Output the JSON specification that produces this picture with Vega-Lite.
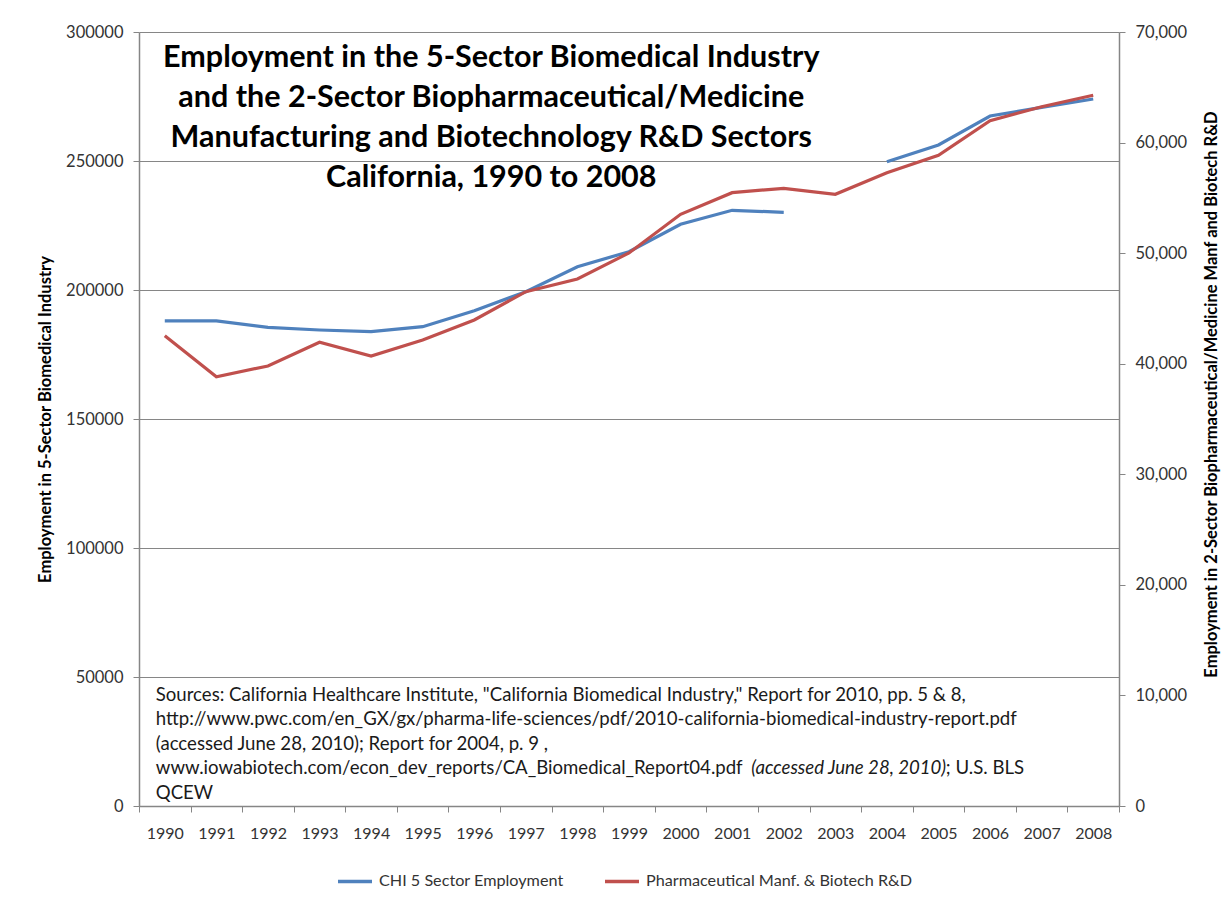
{
  "$schema": "https://vega.github.io/schema/vega-lite/v6.json",
  "autosize": {"type": "none"},
  "width": 980,
  "height": 774,
  "padding": {"left": 139, "top": 32, "right": 112, "bottom": 96},
  "background": "white",
  "config": {
    "view": {"stroke": null},
    "font": "Lato",
    "axis": {"labelFont": "Lato", "titleFont": "Lato", "labelColor": "#333333", "domainColor": "#868686", "tickColor": "#868686", "gridColor": "#868686", "gridOpacity": 1, "titleColor": "#000000"}
  },
  "data": {"values": [
    {"year": "1990", "chi": 188000, "pharma": 42534},
    {"year": "1991", "chi": 188000, "pharma": 38826},
    {"year": "1992", "chi": 185543, "pharma": 39793},
    {"year": "1993", "chi": 184496, "pharma": 41937},
    {"year": "1994", "chi": 183837, "pharma": 40698},
    {"year": "1995", "chi": 185775, "pharma": 42145},
    {"year": "1996", "chi": 191977, "pharma": 43953},
    {"year": "1997", "chi": 199341, "pharma": 46513},
    {"year": "1998", "chi": 209031, "pharma": 47662},
    {"year": "1999", "chi": 214845, "pharma": 50013},
    {"year": "2000", "chi": 225465, "pharma": 53513},
    {"year": "2001", "chi": 230891, "pharma": 55467},
    {"year": "2002", "chi": 230116, "pharma": 55865},
    {"year": "2003", "chi": null, "pharma": 55322},
    {"year": "2004", "chi": 249729, "pharma": 57276},
    {"year": "2005", "chi": 256202, "pharma": 58849},
    {"year": "2006", "chi": 267442, "pharma": 61979},
    {"year": "2007", "chi": 270814, "pharma": 63245},
    {"year": "2008", "chi": 274031, "pharma": 64276}
  ]},
  "encoding": {
    "x": {"field": "year", "type": "ordinal", "scale": {"type": "band", "paddingInner": 0, "paddingOuter": 0},
      "axis": {"title": null, "labelAngle": 0, "labelFontSize": 16, "tickBand": "extent", "tickSize": 6, "labelPadding": 13, "grid": false, "domainWidth": 1.5}}
  },
  "layer": [
    {
      "layer": [
        {
          "mark": {"type": "line", "strokeWidth": 3.2, "invalid": "break-paths-show-domains"},
          "encoding": {
            "y": {"field": "chi", "type": "quantitative", "scale": {"domain": [0, 300000], "nice": false, "zero": true},
              "axis": {"title": "Employment in 5-Sector Biomedical Industry", "titleFontSize": 16.5, "titleFontWeight": "bold", "titlePadding": 12,
                "values": [0, 50000, 100000, 150000, 200000, 250000, 300000], "format": "d", "labelFontSize": 16.5, "labelPadding": 10, "tickSize": 6, "grid": true, "domainWidth": 1.5}},
            "color": {"datum": "CHI 5 Sector Employment", "type": "nominal",
              "scale": {"domain": ["CHI 5 Sector Employment", "Pharmaceutical Manf. & Biotech R&D"], "range": ["#4F81BD", "#C0504D"]},
              "legend": {"title": null, "orient": "none", "direction": "horizontal", "legendX": 197, "legendY": 830, "symbolType": "stroke", "symbolSize": 1156, "symbolStrokeWidth": 3.5, "labelFontSize": 16.2, "labelFont": "Lato", "labelColor": "#333333", "labelLimit": 0, "columnPadding": 34, "labelOffset": 5}}
          }
        },
        {
          "data": {"values": [{"t": "Employment in the 5-Sector Biomedical Industry\nand the 2-Sector Biopharmaceutical/Medicine\nManufacturing and Biotechnology R&D Sectors\nCalifornia, 1990 to 2008"}]},
          "mark": {"type": "text", "lineBreak": "\n", "lineHeight": 40, "fontSize": 30.5, "fontWeight": "bold", "font": "Lato", "align": "center", "baseline": "alphabetic", "dx": 17, "color": "#000000"},
          "encoding": {"x": {"datum": "1996"}, "y": {"datum": 286434}, "text": {"field": "t"}}
        },
        {
          "data": {"values": [{"t": "Sources: California Healthcare Institute, \"California Biomedical Industry,\" Report for 2010,   pp. 5 & 8,\nhttp://www.pwc.com/en_GX/gx/pharma-life-sciences/pdf/2010-california-biomedical-industry-report.pdf\n(accessed June 28, 2010); Report for 2004, p. 9 ,\nwww.iowabiotech.com/econ_dev_reports/CA_Biomedical_Report04.pdf\nQCEW"}]},
          "mark": {"type": "text", "lineBreak": "\n", "lineHeight": 24.4, "fontSize": 18.6, "font": "Lato", "align": "left", "baseline": "alphabetic", "dx": -9, "color": "#1a1a1a"},
          "encoding": {"x": {"datum": "1990"}, "y": {"datum": 40700}, "text": {"field": "t"}}
        },
        {
          "data": {"values": [{"t": "(accessed June 28, 2010)"}]},
          "mark": {"type": "text", "fontSize": 18.6, "font": "Lato", "fontStyle": "italic", "align": "left", "baseline": "alphabetic", "dx": 19, "color": "#1a1a1a"},
          "encoding": {"x": {"datum": "2001"}, "y": {"datum": 12330}, "text": {"field": "t"}}
        },
        {
          "data": {"values": [{"t": "; U.S. BLS"}]},
          "mark": {"type": "text", "fontSize": 18.6, "font": "Lato", "align": "right", "baseline": "alphabetic", "dx": 34, "color": "#1a1a1a"},
          "encoding": {"x": {"datum": "2006"}, "y": {"datum": 12330}, "text": {"field": "t"}}
        }
      ]
    },
    {
      "mark": {"type": "line", "strokeWidth": 3.2},
      "encoding": {
        "y": {"field": "pharma", "type": "quantitative", "scale": {"domain": [0, 70000], "nice": false},
          "axis": {"orient": "right", "title": "Employment in 2-Sector Biopharmaceutical/Medicine  Manf and Biotech R&D", "titleFontSize": 16.5, "titleFontWeight": "bold", "titlePadding": 33, "titleAngle": 270, "titleY": 362,
            "values": [0, 10000, 20000, 30000, 40000, 50000, 60000, 70000], "format": ",d", "labelFontSize": 16.5, "labelPadding": 10, "tickSize": 6, "grid": false, "domainWidth": 1.5}},
        "color": {"datum": "Pharmaceutical Manf. & Biotech R&D", "type": "nominal"}
      }
    }
  ],
  "resolve": {"scale": {"y": "independent"}}
}
